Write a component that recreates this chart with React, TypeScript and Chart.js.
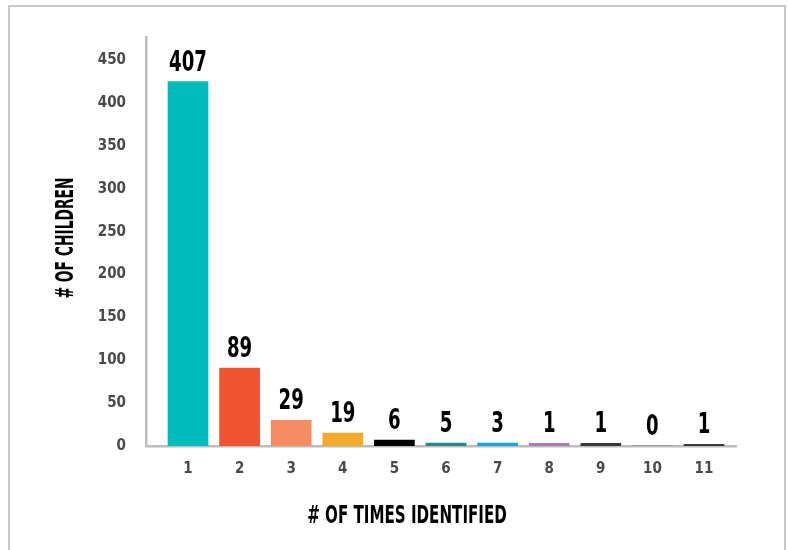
import React, { useEffect, useRef } from "react";
import { Chart, registerables } from "chart.js";

Chart.register(...registerables);

// ---- data ----
const categories = [1, 2, 3, 4, 5, 6, 7, 8, 9, 10, 11];
const xTickLabels = ["1", "2", "3", "4", "5", "6", "7", "8", "9", "10", "11"];
// bar heights as drawn in the picture
const barValues = [425, 91, 30, 15, 7, 3.5, 3.5, 3, 3, 0, 2];
// numbers printed above the bars
const valueLabels = ["407", "89", "29", "19", "6", "5", "3", "1", "1", "0", "1"];
const barColors = [
  "#00BDBD",
  "#EF5332",
  "#F68D62",
  "#F4AB2B",
  "#000000",
  "#29898A",
  "#11A6DF",
  "#A97DB4",
  "#3A3A3A",
  "#3A3A3A",
  "#3A3A3A",
];
const yTickValues = [0, 50, 100, 150, 200, 250, 300, 350, 400, 450];
const yTitle = "# OF CHILDREN";
const xTitle = "# OF TIMES IDENTIFIED";

const FONT = "'DejaVu Sans Condensed', 'Liberation Sans Narrow', 'Liberation Sans', sans-serif";

function drawCondensed(ctx: any, text: string, x: number, y: number, squeeze: number, rotation = 0) {
  ctx.save();
  ctx.translate(x, y);
  if (rotation) ctx.rotate(rotation);
  ctx.scale(squeeze, 1);
  ctx.fillText(text, 0, 0);
  ctx.restore();
}

const valueLabelPlugin = {
  id: "valueLabels",
  afterDatasetsDraw(chart: any) {
    const ctx = chart.ctx;
    const meta = chart.getDatasetMeta(0);
    ctx.save();
    ctx.font = `bold 28px ${FONT}`;
    ctx.fillStyle = "#000000";
    ctx.textAlign = "center";
    ctx.textBaseline = "alphabetic";
    meta.data.forEach((el: any, i: number) => {
      drawCondensed(ctx, valueLabels[i], el.x, el.y - 11, 0.72);
    });
    ctx.restore();
  },
};

const titlePlugin = {
  id: "axisTitles",
  afterDraw(chart: any) {
    const { ctx, chartArea } = chart;
    ctx.save();
    ctx.fillStyle = "#000000";
    ctx.textAlign = "center";
    ctx.textBaseline = "middle";
    ctx.font = `bold 24px ${FONT}`;
    drawCondensed(ctx, xTitle, chartArea.left + 261, chartArea.bottom + 71, 0.7);
    ctx.font = `bold 24px ${FONT}`;
    drawCondensed(ctx, yTitle, chartArea.left - 79, chartArea.top + 201, 0.64, -Math.PI / 2);
    ctx.restore();
  },
};

export default function App() {
  const canvasRef = useRef<HTMLCanvasElement | null>(null);

  useEffect(() => {
    if (!canvasRef.current) return;
    const chart = new Chart(canvasRef.current, {
      type: "bar",
      data: {
        datasets: [
          {
            data: categories.map((c, i) => ({ x: c, y: barValues[i] })),
            backgroundColor: barColors,
            borderWidth: 0,
            barThickness: 40,
          },
        ],
      },
      options: {
        responsive: false,
        animation: false,
        plugins: {
          legend: { display: false },
          tooltip: { enabled: false },
        },
        layout: { padding: { top: 37, right: 52, left: 0, bottom: 0 } },
        scales: {
          x: {
            type: "linear",
            offset: false,
            min: 0.186,
            max: 11.62,
            afterBuildTicks: (scale: any) => {
              scale.ticks = categories.map((v) => ({ value: v }));
            },
            afterFit: (scale: any) => {
              scale.height = 104;
            },
            grid: { display: false, drawTicks: false, offset: false },
            border: { display: true, color: "#BDBDBD", width: 2.5 },
            ticks: {
              autoSkip: false,
              maxRotation: 0,
              padding: 14,
              color: "#4A4A4A",
              font: { family: FONT, size: 15, weight: "bold" },
              callback: (v: any) => xTickLabels[categories.indexOf(Number(v))] ?? "",
            },
          },
          y: {
            min: 0,
            max: 477,
            afterBuildTicks: (scale: any) => {
              scale.ticks = yTickValues.map((v) => ({ value: v }));
            },
            afterFit: (scale: any) => {
              scale.width = 146;
            },
            grid: { display: false, drawTicks: false },
            border: { display: true, color: "#BDBDBD", width: 2.5 },
            ticks: {
              padding: 20,
              color: "#4A4A4A",
              font: { family: FONT, size: 15, weight: "bold" },
            },
          },
        },
      },
      plugins: [valueLabelPlugin, titlePlugin],
    } as any);
    return () => chart.destroy();
  }, []);

  return (
    <div style={{ position: "fixed", left: 0, top: 0, width: 788, height: 550, overflow: "hidden", background: "#ffffff" }}>
      <div
        style={{
          position: "absolute",
          left: 8,
          top: 5,
          width: 774,
          height: 600,
          border: "2px solid #C8C8C8",
          boxSizing: "content-box",
        }}
      />
      <canvas
        ref={canvasRef}
        width={788}
        height={550}
        style={{ position: "absolute", left: 0, top: 0, width: 788, height: 550 }}
      />
    </div>
  );
}
